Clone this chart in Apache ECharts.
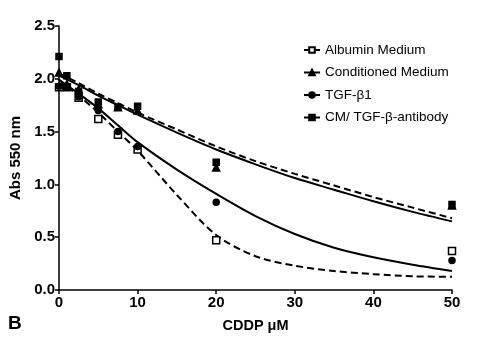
<!DOCTYPE html>
<html>
<head>
<meta charset="utf-8">
<script src="https://cdn.jsdelivr.net/npm/echarts@6/dist/echarts.min.js"></script>
<style>
  html, body { margin: 0; padding: 0; background: #fff; }
  #chart { width: 500px; height: 343px; }
</style>
</head>
<body>
<div id="chart"></div>
<script>
// measured doses (uM)
var doses = [0, 1, 2.5, 5, 7.5, 10, 20, 50];
// raw points per group
var albuminPts = [1.92, 1.92, 1.82, 1.62, 1.47, 1.33, 0.47, 0.37];
var condPts = [2.06, 1.95, 1.90, 1.76, 1.73, 1.70, 1.16, 0.80];
var tgfPts = [1.93, 1.92, 1.83, 1.70, 1.50, 1.36, 0.83, 0.28];
var cmAbPts = [2.21, 2.03, 1.88, 1.78, 1.73, 1.74, 1.21, 0.81];

// fitted curves
var fitX = [0, 2.5, 5, 7.5, 10, 15, 20, 25, 30, 35, 40, 45, 50];
var albuminFit = [1.99, 1.84, 1.68, 1.50, 1.32, 0.90, 0.52, 0.32, 0.23, 0.18, 0.15, 0.13, 0.125];
var condFit = [2.03, 1.94, 1.84, 1.75, 1.66, 1.49, 1.33, 1.19, 1.06, 0.95, 0.84, 0.74, 0.65];
var tgfFit = [1.99, 1.86, 1.72, 1.56, 1.40, 1.14, 0.91, 0.70, 0.53, 0.40, 0.31, 0.24, 0.18];
var cmAbFit = [2.05, 1.96, 1.86, 1.77, 1.68, 1.52, 1.36, 1.22, 1.10, 0.99, 0.88, 0.78, 0.68];

var xTicks = [0, 10, 20, 30, 40, 50];
var yTicks = [0, 0.5, 1.0, 1.5, 2.0, 2.5];

var groups = [
  { name: 'Albumin Medium', pts: albuminPts, fit: albuminFit, type: 'dashed', symbol: 'rect', size: 7, fill: '#fff' },
  { name: 'Conditioned Medium', pts: condPts, fit: condFit, type: 'solid', symbol: 'triangle', size: 7, fill: '#000' },
  { name: 'TGF-β1', pts: tgfPts, fit: tgfFit, type: 'solid', symbol: 'circle', size: 6, fill: '#000' },
  { name: 'CM/ TGF-β-antibody', pts: cmAbPts, fit: cmAbFit, type: 'dashed', symbol: 'rect', size: 6, fill: '#000' }
];

function pair(xs, ys) {
  return xs.map(function (x, i) { return [x, ys[i]]; });
}

var series = [];
groups.forEach(function (g) {
  series.push({
    name: g.name,
    type: 'line',
    smooth: 0.3,
    data: pair(fitX, g.fit),
    symbol: g.symbol,
    symbolSize: g.size - 1,
    showSymbol: false,
    itemStyle: { color: g.fill, borderColor: '#000', borderWidth: 1.5 },
    lineStyle: { color: '#000', width: 2, type: g.type === 'dashed' ? [7, 4] : 'solid' },
    z: 2
  });
  series.push({
    name: g.name,
    type: 'scatter',
    data: pair(doses, g.pts),
    symbol: g.symbol,
    symbolSize: g.size,
    itemStyle: { color: g.fill, borderColor: '#000', borderWidth: 1.5, opacity: 1 },
    z: 3
  });
});

var chart = echarts.init(document.getElementById('chart'));
chart.setOption({
  animation: false,
  backgroundColor: '#fff',
  textStyle: { fontFamily: 'Liberation Sans, Arial, sans-serif' },
  grid: { left: 59, right: 48, top: 26, bottom: 53 },
  legend: {
    orient: 'vertical',
    left: 298,
    top: 38,
    itemGap: 8.5,
    itemWidth: 16,
    itemHeight: 7,
    textStyle: { fontSize: 13.5, color: '#000', fontFamily: 'Liberation Sans, Arial, sans-serif' },
    data: groups.map(function (g) { return g.name; })
  },
  xAxis: {
    type: 'value',
    min: 0, max: 50, interval: 10,
    name: 'CDDP μM',
    nameLocation: 'middle',
    nameGap: 28,
    nameTextStyle: { fontSize: 14.5, fontWeight: 'bold', color: '#000' },
    axisLine: { lineStyle: { color: '#000', width: 1.5 } },
    axisTick: { lineStyle: { color: '#000', width: 1.5 }, length: 4 },
    axisLabel: {
      fontSize: 15, fontWeight: 'bold', color: '#000', margin: 5,
      formatter: function (v) { return xTicks.indexOf(v) >= 0 ? String(v) : ''; }
    },
    splitLine: { show: false }
  },
  yAxis: {
    type: 'value',
    min: 0, max: 2.5, interval: 0.5,
    name: 'Abs 550 nm',
    nameLocation: 'middle',
    nameGap: 31,
    nameTextStyle: { fontSize: 15, fontWeight: 'bold', color: '#000' },
    axisLine: { show: true, lineStyle: { color: '#000', width: 1.5 } },
    axisTick: { show: true, lineStyle: { color: '#000', width: 1.5 }, length: 4 },
    axisLabel: {
      fontSize: 15, fontWeight: 'bold', color: '#000', margin: 4,
      formatter: function (v) { return yTicks.indexOf(v) >= 0 ? v.toFixed(1) : ''; }
    },
    splitLine: { show: false }
  },
  graphic: [{
    type: 'text',
    left: 8,
    top: 314,
    style: { text: 'B', fontSize: 19, fontWeight: 'bold', fill: '#000', fontFamily: 'Liberation Sans, Arial, sans-serif' }
  }],
  series: series
});
</script>
</body>
</html>
